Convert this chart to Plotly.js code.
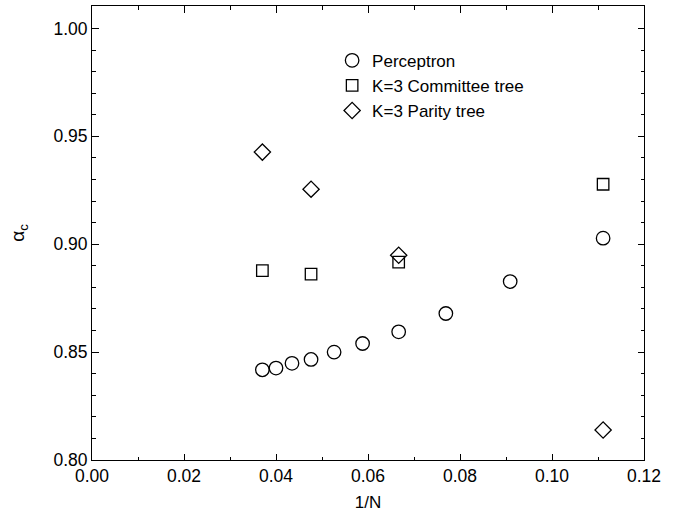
<!DOCTYPE html>
<html>
<head>
<meta charset="utf-8">
<script src="https://cdn.plot.ly/plotly-3.0.1.min.js"></script>
<style>html,body{margin:0;padding:0;background:#fff;}#chart{width:681px;height:514px;}</style>
</head>
<body>
<div id="chart"></div>
<script>
// System sizes N; x = 1/N
const perceptronN = [27, 25, 23, 21, 19, 17, 15, 13, 11, 9];
const perceptronAlpha = [0.8418, 0.8426, 0.8448, 0.8466, 0.8500, 0.8540, 0.8594, 0.8679, 0.8827, 0.9028];
const committeeN = [27, 21, 15, 9];
const committeeAlpha = [0.8878, 0.8861, 0.8917, 0.9278];
const parityN = [27, 21, 15, 9];
const parityAlpha = [0.9427, 0.9255, 0.8949, 0.8139];
const seriesNames = ["Perceptron", "K=3 Committee tree", "K=3 Parity tree"];
const xTicks = [0.00, 0.02, 0.04, 0.06, 0.08, 0.10, 0.12];
const yTicks = [0.80, 0.85, 0.90, 0.95, 1.00];

const inv = arr => arr.map(n => 1 / n);
const FONT = "Liberation Sans, Arial, Helvetica, sans-serif";

const traces = [
  {x: inv(perceptronN), y: perceptronAlpha, name: seriesNames[0], mode: "markers", type: "scatter",
   marker: {symbol: "circle-open", size: 13.5, color: "#000", line: {width: 1.3, color: "#000"}}},
  {x: inv(committeeN), y: committeeAlpha, name: seriesNames[1], mode: "markers", type: "scatter",
   marker: {symbol: "square-open", size: 11.5, color: "#000", line: {width: 1.3, color: "#000"}}},
  {x: inv(parityN), y: parityAlpha, name: seriesNames[2], mode: "markers", type: "scatter",
   marker: {symbol: "diamond-open", size: 12.5, color: "#000", line: {width: 1.3, color: "#000"}}}
];

const axisCommon = {
  showgrid: false, zeroline: false, showline: true, linecolor: "#000", linewidth: 1,
  mirror: "allticks", ticks: "inside", ticklen: 6.5, tickwidth: 1, tickcolor: "#000",
  tickformat: ".2f", tickfont: {family: FONT, size: 17.5, color: "#000"},
  minor: {ticks: "inside", ticklen: 3.5, tickwidth: 1, tickcolor: "#000", showgrid: false}
};

const layout = {
  width: 681, height: 514,
  margin: {l: 92, r: 37, t: 6, b: 54},
  paper_bgcolor: "#fff", plot_bgcolor: "#fff",
  font: {family: FONT, color: "#000"},
  showlegend: true,
  legend: {x: 0.435, y: 0.919, xanchor: "left", yanchor: "top", bgcolor: "rgba(0,0,0,0)",
           borderwidth: 0, font: {family: FONT, size: 17, color: "#000"}, tracegroupgap: 0},
  xaxis: Object.assign({}, axisCommon, {
    range: [0, 0.12], tickvals: xTicks, minor: Object.assign({}, axisCommon.minor, {dtick: 0.01, tick0: 0}),
    title: {text: "1/N", font: {family: FONT, size: 17, color: "#000"}, standoff: 11}
  }),
  yaxis: Object.assign({}, axisCommon, {
    range: [0.80, 1.0104], tickvals: yTicks, minor: Object.assign({}, axisCommon.minor, {dtick: 0.01, tick0: 0.8}),
    title: {text: "α<sub>c</sub>", font: {family: FONT, size: 19, color: "#000"}, standoff: 23}
  })
};

Plotly.newPlot("chart", traces, layout, {displayModeBar: false, staticPlot: true});
</script>
</body>
</html>
